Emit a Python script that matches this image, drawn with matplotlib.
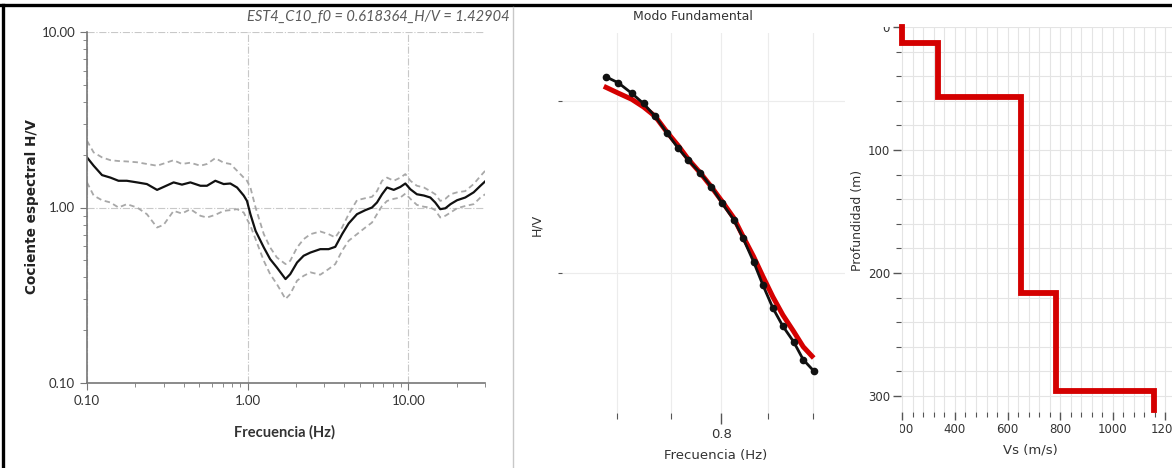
import matplotlib

matplotlib.use('Agg')
import matplotlib.pyplot as plt
from matplotlib.lines import Line2D
from matplotlib.ticker import FixedLocator, LogLocator, MultipleLocator, NullFormatter
from matplotlib.transforms import Bbox

# H/V spectral ratio (left panel)
hv_freq = [0.100, 0.110, 0.124, 0.140, 0.157, 0.177, 0.205, 0.236, 0.273, 0.300,
           0.346, 0.390, 0.440, 0.508, 0.558, 0.629, 0.709, 0.780, 0.859, 0.945,
           0.99, 1.04, 1.12, 1.26, 1.38, 1.52, 1.72, 1.84, 2.03, 2.23,
           2.46, 2.83, 3.19, 3.51, 3.87, 4.25, 4.79, 5.40, 5.94, 6.38,
           6.86, 7.37, 8.11, 8.92, 9.58, 10.3, 11.3, 12.5, 13.7, 14.7,
           15.8, 17.0, 18.3, 20.1, 22.6, 25.5, 28.1, 30.1]
hv_mean = [1.93, 1.73, 1.53, 1.48, 1.42, 1.42, 1.39, 1.36, 1.26, 1.31,
           1.39, 1.35, 1.39, 1.33, 1.33, 1.42, 1.36, 1.37, 1.30, 1.17,
           1.09, 0.916, 0.736, 0.592, 0.508, 0.455, 0.391, 0.417, 0.486, 0.531,
           0.554, 0.579, 0.579, 0.597, 0.705, 0.811, 0.916, 0.966, 1.00, 1.068,
           1.19, 1.30, 1.26, 1.31, 1.37, 1.27, 1.19, 1.17, 1.14, 1.068,
           0.978, 0.99, 1.045, 1.10, 1.14, 1.22, 1.33, 1.41]
hv_upper = [2.40, 2.06, 1.93, 1.86, 1.84, 1.83, 1.81, 1.77, 1.73, 1.78,
            1.86, 1.77, 1.80, 1.73, 1.77, 1.91, 1.80, 1.77, 1.62, 1.48,
            1.42, 1.30, 1.00, 0.705, 0.592, 0.519, 0.476, 0.497, 0.592, 0.660,
            0.705, 0.730, 0.705, 0.675, 0.769, 0.916, 1.10, 1.13, 1.15, 1.24,
            1.42, 1.48, 1.42, 1.48, 1.55, 1.42, 1.33, 1.30, 1.24, 1.19,
            1.09, 1.12, 1.19, 1.22, 1.24, 1.36, 1.51, 1.62]
hv_lower = [1.39, 1.17, 1.10, 1.068, 1.00, 1.045, 1.00, 0.916, 0.769, 0.797,
            0.957, 0.924, 0.978, 0.897, 0.877, 0.908, 0.957, 0.966, 0.978, 0.936,
            0.858, 0.787, 0.660, 0.497, 0.417, 0.366, 0.301, 0.321, 0.383, 0.408,
            0.427, 0.414, 0.446, 0.476, 0.567, 0.646, 0.705, 0.769, 0.821, 0.916,
            1.02, 1.09, 1.12, 1.14, 1.20, 1.12, 1.035, 1.01, 1.00, 0.966,
            0.877, 0.897, 0.936, 0.99, 1.02, 1.045, 1.14, 1.19]

# fundamental mode: observed points and model fit (middle panel)
obs_freq = [0.690, 0.701, 0.713, 0.724, 0.735, 0.746, 0.757, 0.767, 0.779, 0.790,
            0.801, 0.813, 0.823, 0.834, 0.844, 0.855, 0.866, 0.878, 0.889, 0.901]
obs_hv = [1.428, 1.421, 1.409, 1.397, 1.382, 1.363, 1.345, 1.331, 1.316, 1.300,
          1.281, 1.262, 1.240, 1.213, 1.186, 1.159, 1.138, 1.120, 1.099, 1.086]
fit_freq = [0.688, 0.701, 0.713, 0.724, 0.735, 0.746, 0.757, 0.767, 0.779, 0.790,
            0.801, 0.813, 0.823, 0.834, 0.844, 0.855, 0.866, 0.878, 0.889, 0.901]
fit_hv = [1.417, 1.409, 1.402, 1.393, 1.382, 1.364, 1.348, 1.332, 1.316, 1.300,
          1.283, 1.264, 1.242, 1.219, 1.196, 1.172, 1.151, 1.132, 1.114, 1.101]

# Vs profile (right panel)
layer_vs = [200, 335, 650, 785, 1155]
layer_top = [0, 13, 57, 216, 296]
profile_bottom = 311

W, H = 1172, 468
fig = plt.figure(figsize=(W / 100, H / 100), dpi=100)
fig.patch.set_facecolor('white')


def box(left, top, right, bottom):
    return [left / W, 1 - bottom / H, (right - left) / W, (bottom - top) / H]


# ---- left panel
ax1 = fig.add_axes(box(87, 32, 485, 383))
ax1.set_xscale('log')
ax1.set_yscale('log')
ax1.plot(hv_freq, hv_upper, color='#a8a8a8', lw=1.3, dashes=(3, 2))
ax1.plot(hv_freq, hv_lower, color='#a8a8a8', lw=1.3, dashes=(3, 2))
ax1.plot(hv_freq, hv_mean, color='#111111', lw=1.6)
ax1.set_xlim(0.1, 30)
ax1.set_ylim(0.1, 10)
for s in ['top', 'right']:
    ax1.spines[s].set_visible(False)
for s in ['left', 'bottom']:
    ax1.spines[s].set_color('#777777')
    ax1.spines[s].set_linewidth(1.2)
ax1.set_xticks([0.1, 1, 10], ['0.10', '1.00', '10.00'])
ax1.set_yticks([0.1, 1, 10], ['0.10', '1.00', '10.00'])
ax1.xaxis.set_minor_locator(LogLocator(subs=range(2, 10)))
ax1.yaxis.set_minor_locator(LogLocator(subs=range(2, 10)))
ax1.xaxis.set_minor_formatter(NullFormatter())
ax1.yaxis.set_minor_formatter(NullFormatter())
ax1.tick_params(which='major', direction='out', length=5, color='#777777',
                labelsize=9.5, labelcolor='#333333')
ax1.tick_params(which='minor', direction='out', length=3, color='#777777')
for lab in ax1.get_xticklabels() + ax1.get_yticklabels():
    lab.set_family('Lato')
ax1.grid(True, which='major', color='#c8c8c8', lw=0.8, ls='-.')
fig.text(510 / W, 1 - 17 / H, 'EST4_C10_f0 = 0.618364_H/V = 1.42904', ha='right', va='center',
         style='italic', color='#5a5a5a', fontsize=10.5, family='Lato')
fig.text(32 / W, 1 - 207 / H, 'Cociente espectral H/V', rotation=90, ha='center', va='center',
         fontsize=9.8, fontweight='bold', color='#222222')
fig.text(285 / W, 1 - 432 / H, 'Frecuencia (Hz)', ha='center', va='center',
         fontsize=10.5, fontweight='bold', color='#333333', family='Lato')

# ---- middle panel
ax2 = fig.add_axes(box(562, 33, 845, 413))
ax2.set_xscale('log')
ax2.plot(fit_freq, fit_hv, color='#d40000', lw=3.6, zorder=2, solid_capstyle='butt')
ax2.plot(obs_freq, obs_hv, color='#111111', lw=2.0, marker='o', ms=4.5, zorder=3)
ax2.set_xlim(0.652, 0.938)
ax2.set_ylim(1.037, 1.479)
for s in ax2.spines.values():
    s.set_visible(False)
ax2.xaxis.set_major_locator(FixedLocator([0.8]))
ax2.xaxis.set_minor_locator(FixedLocator([0.7, 0.75, 0.85, 0.9]))
ax2.xaxis.set_major_formatter(plt.FixedFormatter(['0.8']))
ax2.xaxis.set_minor_formatter(NullFormatter())
ax2.set_yticks([1.2, 1.4], ['', ''])
ax2.tick_params(axis='x', which='major', length=8, width=1, color='#555555', pad=3,
                labelsize=9.5, labelcolor='#333333')
ax2.tick_params(axis='x', which='minor', length=4, width=0.8, color='#555555', pad=3)
ax2.tick_params(axis='y', which='major', length=3, width=0.8, color='#555555')
ax2.grid(True, axis='x', which='both', color='#ececec', lw=0.8)
ax2.grid(True, axis='y', which='major', color='#ececec', lw=0.8)
fig.text(693 / W, 1 - 17 / H, 'Modo Fundamental', ha='center', va='center',
         fontsize=9, color='#333333')
fig.text(537 / W, 1 - 225 / H, 'H/V', rotation=90, ha='center', va='center',
         fontsize=9, color='#333333')
fig.text(716 / W, 1 - 455 / H, 'Frecuencia (Hz)', ha='center', va='center',
         fontsize=9.5, color='#333333')

# ---- right panel
ax3 = fig.add_axes(box(901, 27, 1176, 412))
vs_path, z_path = [], []
bottoms = layer_top[1:] + [profile_bottom]
for v, top, bot in zip(layer_vs, layer_top, bottoms):
    vs_path += [v, v]
    z_path += [top, bot]
ax3.plot(vs_path, z_path, color='#d40000', lw=4.2, solid_joinstyle='miter', clip_on=False)
ax3.set_xlim(195, 1240)
ax3.set_ylim(313, 0)
for s in ax3.spines.values():
    s.set_visible(False)
ax3.xaxis.set_major_locator(MultipleLocator(200))
ax3.xaxis.set_minor_locator(MultipleLocator(40))
ax3.yaxis.set_major_locator(FixedLocator([0, 100, 200, 300]))
ax3.yaxis.set_minor_locator(MultipleLocator(20))
ax3.tick_params(which='major', length=6, width=1, color='#555555', labelsize=8.5,
                labelcolor='#333333', pad=2)
ax3.tick_params(which='minor', length=3.5, width=0.8, color='#555555')
ax3.grid(True, which='both', color='#e4e4e4', lw=0.8)
fig.text(857 / W, 1 - 220 / H, 'Profundidad (m)', rotation=90, ha='center', va='center',
         fontsize=9, color='#333333')
fig.text(1030 / W, 1 - 450 / H, 'Vs (m/s)', ha='center', va='center',
         fontsize=9.5, color='#333333')

# frame lines of the composite
fig.add_artist(Line2D([0, 1], [1 - 5 / H] * 2, transform=fig.transFigure, color='black', lw=2.4))
fig.add_artist(Line2D([3 / W] * 2, [0, 1 - 5 / H], transform=fig.transFigure, color='black', lw=2.4))
fig.add_artist(Line2D([513 / W] * 2, [0, 1 - 7 / H], transform=fig.transFigure, color='#c8c8c8', lw=1))

# partly hidden labels at the panel border
fig.canvas.draw()
for t in ax3.xaxis.get_major_ticks():
    if abs(t.get_loc() - 200) < 1:
        t.label1.set_clip_box(Bbox.from_extents(900, 0, W, H))
        t.label1.set_clip_on(True)
for t in ax3.yaxis.get_major_ticks():
    if abs(t.get_loc()) < 1:
        t.label1.set_clip_box(Bbox.from_extents(0, 0, W, H - 27))
        t.label1.set_clip_on(True)

fig.savefig('out.png', dpi=100)
